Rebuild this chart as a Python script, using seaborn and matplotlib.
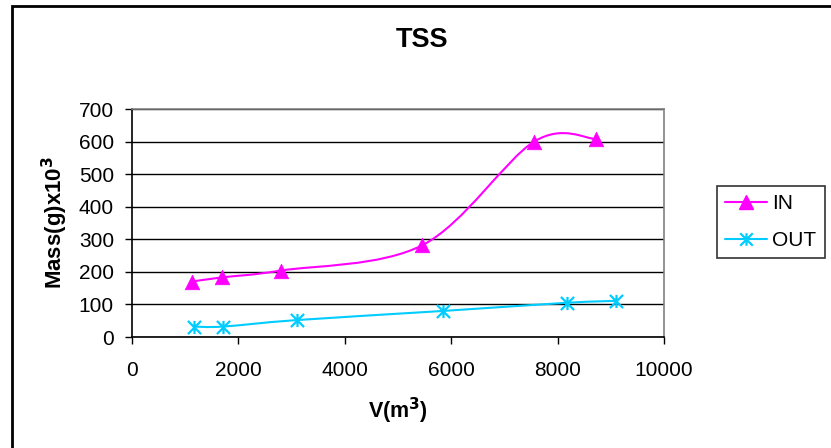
import numpy as np
import pandas as pd
import matplotlib
matplotlib.use("Agg")
import matplotlib.pyplot as plt
from matplotlib.path import Path
from matplotlib.patches import PathPatch, Rectangle
from matplotlib.lines import Line2D
import seaborn as sns

# ---- data ----
in_v = [1120, 1690, 2800, 5460, 7560, 8720]
in_mass = [170, 183, 204, 282, 600, 608]
out_v = [1170, 1710, 3100, 5850, 8170, 9100]
out_mass = [32, 32, 52, 80, 105, 111]
x_ticks = [0, 2000, 4000, 6000, 8000, 10000]
y_ticks = [0, 100, 200, 300, 400, 500, 600, 700]
series_names = ["IN", "OUT"]
colors = {"IN": "#FF00FF", "OUT": "#00CCFF"}

df = pd.concat([
    pd.DataFrame({"V": in_v, "Mass": in_mass, "series": "IN"}),
    pd.DataFrame({"V": out_v, "Mass": out_mass, "series": "OUT"}),
], ignore_index=True)

sns.set_theme(style="white")
plt.rcParams["font.family"] = ["Liberation Sans", "DejaVu Sans"]
plt.rcParams.update({"text.color": "black", "axes.labelcolor": "black",
                     "xtick.color": "black", "ytick.color": "black"})

fig = plt.figure(figsize=(8.31, 4.48), dpi=100)
ax = fig.add_axes([132 / 831, 1 - 337 / 448, (664 - 132) / 831, (337 - 109) / 448])


def smooth_path(xs, ys):
    pts = np.column_stack([xs, ys]).astype(float)
    n = len(pts)
    verts = [tuple(pts[0])]
    codes = [Path.MOVETO]
    for i in range(n - 1):
        p_prev = pts[max(i - 1, 0)]
        p0 = pts[i]
        p1 = pts[i + 1]
        p_next = pts[min(i + 2, n - 1)]
        c1 = p0 + (p1 - p_prev) / 6.0
        c2 = p1 - (p_next - p0) / 6.0
        verts += [tuple(c1), tuple(c2), tuple(p1)]
        codes += [Path.CURVE4] * 3
    return Path(verts, codes)


for name in series_names:
    sub = df[df.series == name]
    patch = PathPatch(smooth_path(sub.V.values, sub.Mass.values), fill=False,
                      edgecolor=colors[name], lw=1.5, zorder=3)
    ax.add_patch(patch)

asterisk = Path([(0, -1), (0, 1), (-1, -1), (1, 1), (-1, 1), (1, -1)],
                [Path.MOVETO, Path.LINETO] * 3)

sns.scatterplot(data=df[df.series == "IN"], x="V", y="Mass", marker="^", s=110,
                color=colors["IN"], edgecolor=colors["IN"], linewidth=0.5,
                ax=ax, zorder=4, legend=False)
sns.scatterplot(data=df[df.series == "OUT"], x="V", y="Mass", marker=asterisk, s=90,
                color=colors["OUT"], edgecolor=colors["OUT"], linewidth=1.6,
                ax=ax, zorder=4, legend=False)

ax.set_xlim(0, 10000)
ax.set_ylim(0, 700)
ax.set_xticks(x_ticks)
ax.set_yticks(y_ticks)
ax.set_xticklabels([str(t) for t in x_ticks], fontsize=15)
ax.set_yticklabels([str(t) for t in y_ticks], fontsize=15)
ax.tick_params(axis="both", which="major", direction="out", length=5, width=1,
               color="black", labelcolor="black", bottom=True, left=True)
ax.tick_params(axis="y", pad=8)
ax.tick_params(axis="x", pad=12)
ax.yaxis.grid(True, color="black", lw=1)
ax.xaxis.grid(False)
ax.set_axisbelow(True)
for side in ["left", "bottom"]:
    ax.spines[side].set_color("black")
    ax.spines[side].set_linewidth(1.2)
for side in ["top", "right"]:
    ax.spines[side].set_color("#808080")
    ax.spines[side].set_linewidth(1.2)

ax.set_xlabel("V(m$^\\mathbf{3}$)", fontsize=15.5, fontweight="bold", labelpad=12)
ax.set_ylabel("Mass(g)x10$^\\mathbf{3}$", fontsize=16, fontweight="bold", labelpad=6)
fig.text(422.5 / 831, 1 - 40 / 448, "TSS", fontsize=19.5, fontweight="bold",
         ha="center", va="center", color="black")

handles = [
    Line2D([], [], color=colors["IN"], lw=1.5, marker="^", markersize=10,
           markerfacecolor=colors["IN"], markeredgecolor=colors["IN"]),
    Line2D([], [], color=colors["OUT"], lw=1.5, marker=asterisk, markersize=9,
           markeredgewidth=1.6, markeredgecolor=colors["OUT"]),
]
leg = fig.legend(handles, series_names, loc="upper left",
                 bbox_to_anchor=(717 / 831, 1 - 186 / 448), fontsize=15,
                 frameon=True, fancybox=False, edgecolor="black",
                 handlelength=2.0, handletextpad=0.25, borderpad=0.4,
                 labelspacing=0.85, borderaxespad=0)
leg.get_frame().set_linewidth(1.2)
for t in leg.get_texts():
    t.set_color("black")

border = Rectangle((12 / 831, -0.2), 2.0, 1.2 - 6 / 448, transform=fig.transFigure,
                   fill=False, edgecolor="black", lw=2, clip_on=False)
fig.patches.append(border)

fig.savefig("out.png", dpi=100)
